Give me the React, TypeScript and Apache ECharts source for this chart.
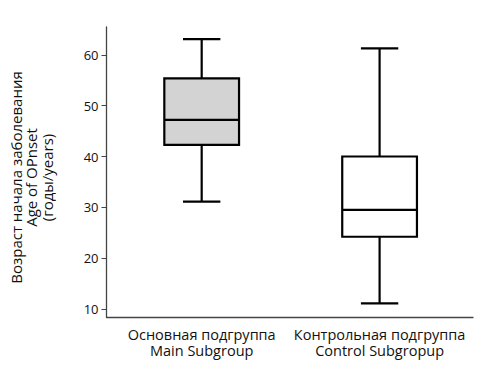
import React, { useEffect, useRef } from "react";
import * as echarts from "echarts";

const categories = ["Основная подгруппа\nMain Subgroup", "Контрольная подгруппа\nControl Subgropup"];
const lows = [31.1, 11.1];
const q1s = [42.3, 24.2];
const medians = [47.2, 29.5];
const q3s = [55.4, 40.0];
const highs = [63.1, 61.3];
const fills = ["#d3d3d3", "#ffffff"];
const yTicks = [10, 20, 30, 40, 50, 60];
const xPositions = [0, 1];

export default function App() {
  const ref = useRef<HTMLDivElement>(null);
  useEffect(() => {
    const chart = echarts.init(ref.current!, null, { renderer: "svg" });
    const data = categories.map((_, i) => [xPositions[i], lows[i], q1s[i], medians[i], q3s[i], highs[i]]);
    const font = "'Open Sans', sans-serif";
    chart.setOption({
      animation: false,
      grid: { left: 96, right: 15, top: 27, bottom: 54 },
      xAxis: {
        type: "value",
        min: -0.535,
        max: 1.525,
        splitLine: { show: false },
        axisLine: { show: true, onZero: false, lineStyle: { color: "#444", width: 1.3 } },
        axisTick: { show: false },
        axisLabel: {
          color: "#111",
          fontSize: 14.5,
          fontFamily: font,
          margin: 10,
          lineHeight: 15.5,
          customValues: xPositions,
          formatter: (v: number) => categories[Math.round(v)] ?? "",
        },
      },
      yAxis: {
        type: "value",
        min: 8.4,
        max: 65.5,
        name: "Возраст начала заболевания\nAge of OPnset\n(годы/years)",
        nameLocation: "middle",
        nameRotate: 90,
        nameGap: 52,
        nameTextStyle: { color: "#111", fontSize: 15, fontFamily: font, lineHeight: 15.5, padding: [0, 11, 0, 0] },
        splitLine: { show: false },
        axisLine: { show: true, onZero: false, lineStyle: { color: "#444", width: 1.3 } },
        axisTick: { show: true, length: 5, customValues: yTicks, lineStyle: { color: "#444" } },
        axisLabel: { color: "#111", fontSize: 13, fontFamily: font, margin: 8, customValues: yTicks },
      },
      series: [
        {
          type: "custom",
          data,
          encode: { x: 0, y: [1, 2, 3, 4, 5] },
          renderItem: (params: any, api: any) => {
            const x = api.value(0);
            const bw = api.size([0.42, 0])[0];
            const cw = bw * 0.5;
            const pLow = api.coord([x, api.value(1)]);
            const pQ1 = api.coord([x, api.value(2)]);
            const pMed = api.coord([x, api.value(3)]);
            const pQ3 = api.coord([x, api.value(4)]);
            const pHigh = api.coord([x, api.value(5)]);
            const cx = pLow[0];
            const ls = { stroke: "#000", lineWidth: 2.2 };
            return {
              type: "group",
              children: [
                { type: "line", shape: { x1: cx, y1: pHigh[1], x2: cx, y2: pQ3[1] }, style: ls },
                { type: "line", shape: { x1: cx, y1: pQ1[1], x2: cx, y2: pLow[1] }, style: ls },
                { type: "line", shape: { x1: cx - cw / 2, y1: pHigh[1], x2: cx + cw / 2, y2: pHigh[1] }, style: ls },
                { type: "line", shape: { x1: cx - cw / 2, y1: pLow[1], x2: cx + cw / 2, y2: pLow[1] }, style: ls },
                {
                  type: "rect",
                  shape: { x: cx - bw / 2, y: pQ3[1], width: bw, height: pQ1[1] - pQ3[1] },
                  style: { fill: fills[params.dataIndex], stroke: "#000", lineWidth: 2.2 },
                },
                { type: "line", shape: { x1: cx - bw / 2, y1: pMed[1], x2: cx + bw / 2, y2: pMed[1] }, style: ls },
              ],
            };
          },
        },
      ],
    });
    return () => chart.dispose();
  }, []);
  return <div ref={ref} style={{ width: 488, height: 371, position: "absolute", left: 0, top: 0, background: "#fff" }} />;
}
